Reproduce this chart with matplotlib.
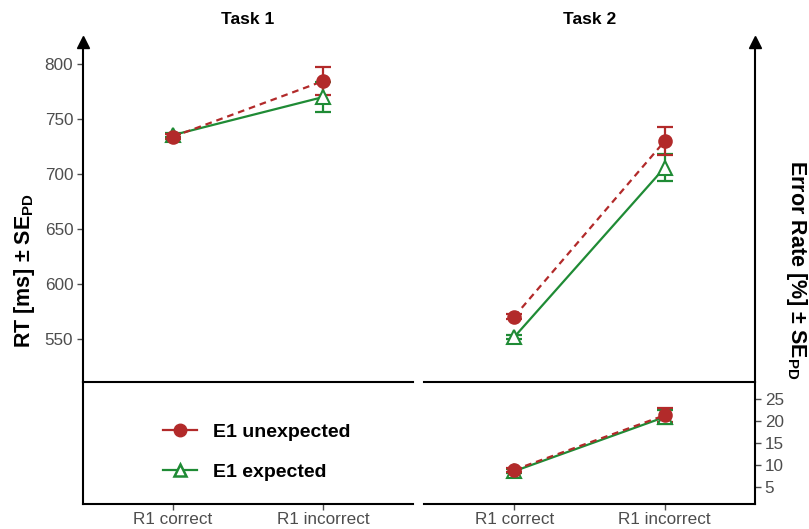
import matplotlib
matplotlib.use("Agg")
import matplotlib.pyplot as plt
from matplotlib.lines import Line2D

plt.rcParams['font.family'] = ['Liberation Sans', 'DejaVu Sans']
plt.rcParams['mathtext.fontset'] = 'custom'
plt.rcParams['mathtext.rm'] = 'Liberation Sans'
plt.rcParams['mathtext.bf'] = 'Liberation Sans:bold'

# ---- data -------------------------------------------------------------
conditions = ["R1 correct", "R1 incorrect"]
tasks = ["Task 1", "Task 2"]
series_labels = ["E1 unexpected", "E1 expected"]

# reaction times (ms) with standard errors, [R1 correct, R1 incorrect]
rt_t1_unexp = [734.0, 784.5]
rt_t1_unexp_se = [2.0, 13.0]
rt_t1_exp = [735.5, 770.0]
rt_t1_exp_se = [2.0, 14.0]
rt_t2_unexp = [570.5, 730.0]
rt_t2_unexp_se = [2.5, 12.5]
rt_t2_exp = [552.0, 706.0]
rt_t2_exp_se = [2.0, 12.5]

# error rates (%) with standard errors, Task 2 only
er_t2_unexp = [8.9, 21.3]
er_t2_unexp_se = [0.5, 1.6]
er_t2_exp = [8.6, 20.9]
er_t2_exp_se = [0.5, 1.5]

rt_ticks = [550, 600, 650, 700, 750, 800]
er_ticks = [5, 10, 15, 20, 25]

# ---- style ------------------------------------------------------------
RED = "#B22A2A"
GREEN = "#1F8B35"
TICK_GREY = "#4D4D4D"
AX_LW = 1.5
FIG_W, FIG_H = 809, 529

fig = plt.figure(figsize=(FIG_W / 100, FIG_H / 100), dpi=100)


def px_axes(x0, x1, ytop, ybot):
    return fig.add_axes([x0 / FIG_W, (FIG_H - ybot) / FIG_H,
                         (x1 - x0) / FIG_W, (ybot - ytop) / FIG_H])


LEFT = (83, 413)
RIGHT = (424, 755)
TOP_Y, DIV_Y, BOT_Y = 41.5, 382, 504

ax_rt1 = px_axes(*LEFT, TOP_Y, DIV_Y)
ax_rt2 = px_axes(*RIGHT, TOP_Y, DIV_Y)
ax_er1 = px_axes(*LEFT, DIV_Y, BOT_Y)
ax_er2 = px_axes(*RIGHT, DIV_Y, BOT_Y)

x = [1, 2]
for ax in (ax_rt1, ax_rt2, ax_er1, ax_er2):
    ax.set_xlim(0.4, 2.6)
    for s in ax.spines.values():
        s.set_visible(False)
        s.set_linewidth(AX_LW)
    ax.set_facecolor("none")
    ax.tick_params(axis="both", colors=TICK_GREY, labelcolor=TICK_GREY,
                   labelsize=12.3, length=4, width=1)

for ax in (ax_rt1, ax_rt2):
    ax.set_ylim(511.1, 820.5)
    ax.spines["bottom"].set_visible(True)
    ax.set_xticks([])
for ax in (ax_er1, ax_er2):
    ax.set_ylim(1.14, 28.86)
    ax.spines["bottom"].set_visible(True)
    ax.set_xticks(x)
    ax.set_xticklabels(conditions)
    ax.tick_params(axis="x", pad=2)

# left RT axis
ax_rt1.spines["left"].set_visible(True)
ax_rt1.set_yticks(rt_ticks)
ax_rt1.tick_params(axis="y", pad=3)
ax_rt1.plot(0, 1, marker="^", color="black", markersize=8.5,
            transform=ax_rt1.transAxes, clip_on=False)
ax_er1.spines["left"].set_visible(True)
ax_er1.set_yticks([])

# right error-rate axis
ax_rt2.set_yticks([])
ax_rt2.spines["right"].set_visible(True)
ax_rt2.plot(1, 1, marker="^", color="black", markersize=8.5,
            transform=ax_rt2.transAxes, clip_on=False)
ax_er2.spines["right"].set_visible(True)
ax_er2.yaxis.tick_right()
ax_er2.set_yticks(er_ticks)
ax_er2.tick_params(axis="y", pad=3)

DASH = (0, (3.0, 2.2))


def draw_series(ax, vals, errs, color, ls, marker, filled):
    ax.plot(x, vals, color=color, lw=1.6, linestyle=ls, zorder=2)
    ax.errorbar(x, vals, yerr=errs, fmt="none", ecolor=color,
                elinewidth=1.6, capsize=6, capthick=1.6, zorder=3)
    ax.plot(x, vals, linestyle="none", marker=marker, markersize=9 if filled else 10,
            markerfacecolor=color if filled else "white",
            markeredgecolor=color, markeredgewidth=1.5, zorder=4)


draw_series(ax_rt1, rt_t1_exp, rt_t1_exp_se, GREEN, "-", "^", False)
draw_series(ax_rt1, rt_t1_unexp, rt_t1_unexp_se, RED, DASH, "o", True)
draw_series(ax_rt2, rt_t2_exp, rt_t2_exp_se, GREEN, "-", "^", False)
draw_series(ax_rt2, rt_t2_unexp, rt_t2_unexp_se, RED, DASH, "o", True)
draw_series(ax_er2, er_t2_exp, er_t2_exp_se, GREEN, "-", "^", False)
draw_series(ax_er2, er_t2_unexp, er_t2_unexp_se, RED, DASH, "o", True)

# legend
handles = [
    Line2D([], [], color=RED, lw=1.6, marker="o", markersize=9),
    Line2D([], [], color=GREEN, lw=1.6, marker="^", markersize=9,
           markerfacecolor="white", markeredgewidth=1.8),
]
leg = ax_er1.legend(handles, series_labels, loc="center left",
                    bbox_to_anchor=(0.19, 0.426), frameon=False,
                    handlelength=1.75, handletextpad=0.8, labelspacing=1.15,
                    prop={"weight": "bold", "size": 14})

# panel titles
for name, (x0, x1) in zip(tasks, (LEFT, RIGHT)):
    fig.text((x0 + x1) / 2 / FIG_W, 1 - 20 / FIG_H, name, ha="center",
             va="center", fontsize=12.5, fontweight="bold")

# axis titles
fig.text(25 / FIG_W, 1 - 271 / FIG_H, r"RT [ms] ± SE$_\mathbf{PD}$",
         rotation=90, ha="center", va="center", fontsize=15.5,
         fontweight="bold")
fig.text(797 / FIG_W, 1 - 270 / FIG_H, r"Error Rate [%] ± SE$_\mathbf{PD}$",
         rotation=-90, ha="center", va="center", fontsize=15.5,
         fontweight="bold")

fig.savefig("out.png", dpi=100)
